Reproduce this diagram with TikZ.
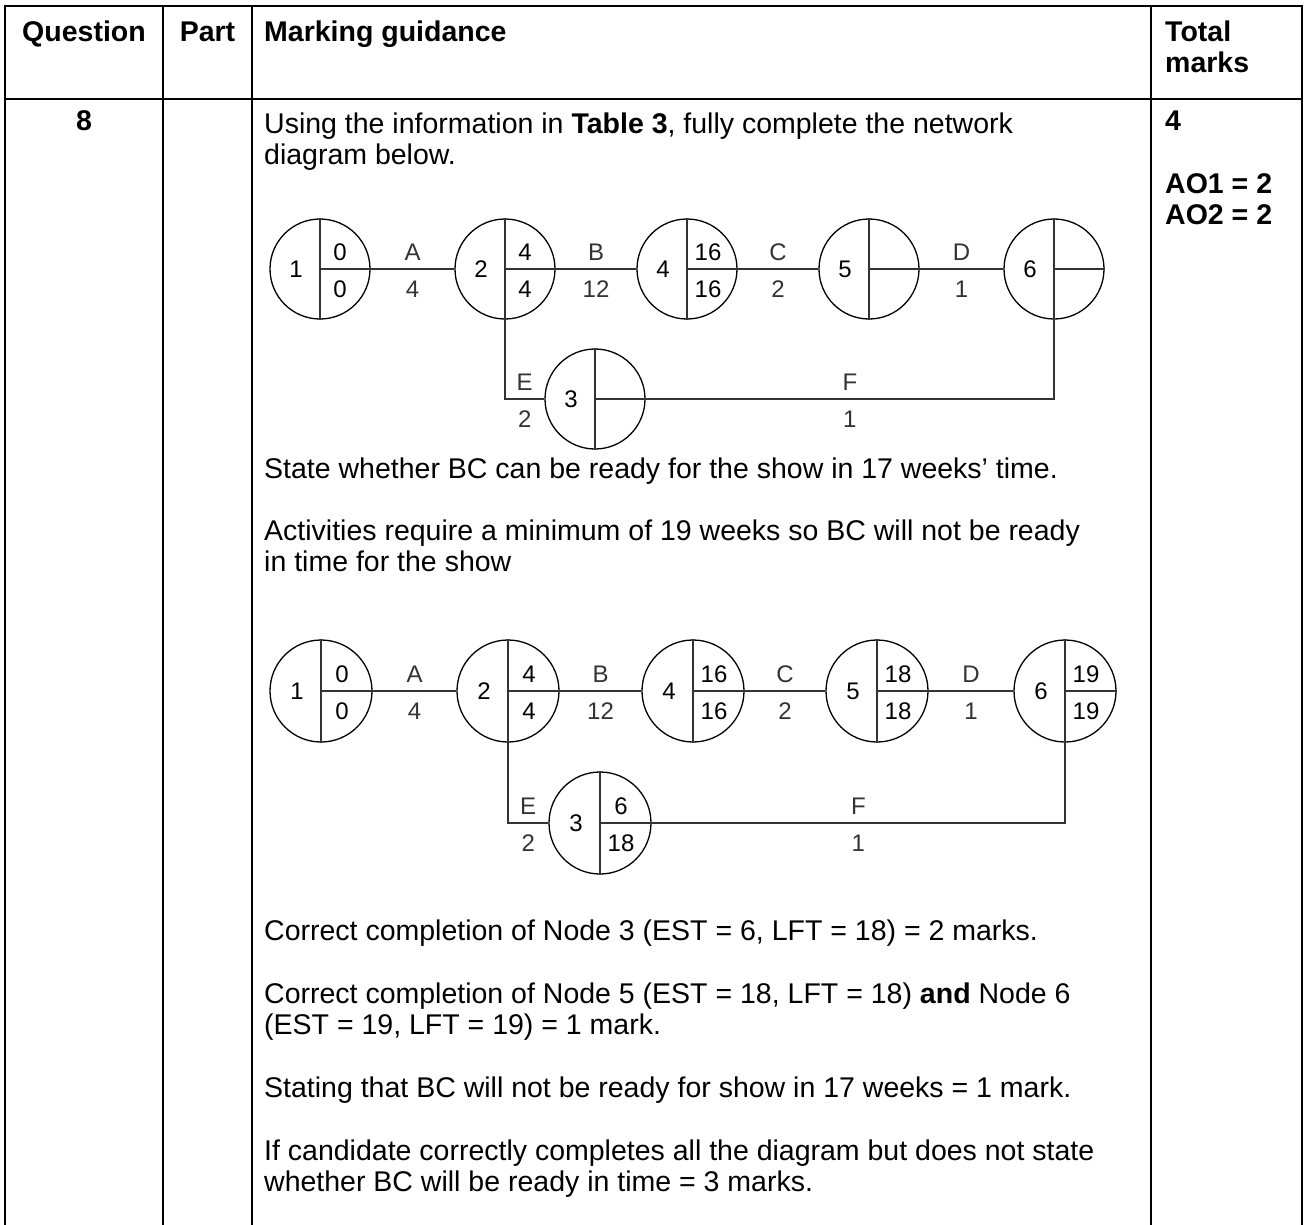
\documentclass[tikz,border=0pt]{standalone}
\usepackage{fontspec}
\setmainfont{Liberation Sans}
\begin{document}
\begin{tikzpicture}[x=1pt,y=-1pt,
  txt/.style={inner sep=0pt, anchor=base west, font=\fontsize{28.5}{31}\selectfont},
  txtc/.style={inner sep=0pt, anchor=base, font=\fontsize{28.5}{31}\selectfont},
  hdr/.style={inner sep=0pt, anchor=base west, font=\fontsize{28.5}{31}\selectfont\bfseries},
  hdrc/.style={inner sep=0pt, anchor=base, font=\fontsize{28.5}{31}\selectfont\bfseries},
  tbl/.style={line width=2pt, black},
  ev/.style={circle, draw=black, line width=1.3pt, minimum size=100pt, inner sep=0pt},
  evb/.style={circle, draw=black, line width=1.3pt, minimum size=102pt, inner sep=0pt},
  cn/.style={line width=1.1pt, black!80},
  dl/.style={inner sep=0pt, font=\fontsize{24}{24}\selectfont},
]
\useasboundingbox (0,0) rectangle (1306,1225);
\fill[white] (0,0) rectangle (1306,1225);
% table
\draw[tbl] (5,1225) -- (5,6) -- (1302,6) -- (1302,1225);
\draw[tbl] (163,6) -- (163,1225);
\draw[tbl] (252,6) -- (252,1225);
\draw[tbl] (1151,6) -- (1151,1225);
\draw[tbl] (5,99) -- (1302,99);
% header
\node[hdrc] (hq) at (84,42) {Question};
\node[hdrc] (hp) at (207.5,42) {Part};
\node[hdr] (hm) at (264,42) {Marking guidance};
\node[hdr] (ht) at (1165,42) {Total};
\node[hdr] (ht2) at (1165,73) {marks};
% right column
\node[hdrc] (q8) at (84,131) {8};
\node[hdr] (m4) at (1165,131) {4};
\node[hdr] (ao1) at (1165,194) {AO1 = 2};
\node[hdr] (ao2) at (1165,225) {AO2 = 2};
% body text
\node[txt] (t1) at (264,134) {Using the information in \textbf{Table 3}, fully complete the network};
\node[txt] (t2) at (264,165) {diagram below.};
\node[txt] (t3) at (264,478) {State whether BC can be ready for the show in 17 weeks’ time.};
\node[txt] (t4) at (264,540) {Activities require a minimum of 19 weeks so BC will not be ready};
\node[txt] (t5) at (264,571) {in time for the show};
\node[txt] (t6) at (264,940) {Correct completion of Node 3 (EST = 6, LFT = 18) = 2 marks.};
\node[txt] (t7) at (264,1003) {Correct completion of Node 5 (EST = 18, LFT = 18) \textbf{and} Node 6};
\node[txt] (t8) at (264,1034) {(EST = 19, LFT = 19) = 1 mark.};
\node[txt] (t9) at (264,1097) {Stating that BC will not be ready for show in 17 weeks = 1 mark.};
\node[txt] (t10) at (264,1160) {If candidate correctly completes all the diagram but does not state};
\node[txt] (t11) at (264,1191) {whether BC will be ready in time = 3 marks.};
% ---------- diagram 1 ----------
\node[ev] (a1) at (320,269) {};
\node[ev] (a2) at (505,269) {};
\node[ev] (a4) at (687,269) {};
\node[ev] (a5) at (869,269) {};
\node[ev] (a6) at (1054,269) {};
\node[ev] (a3) at (595,399) {};
\foreach \n in {a1,a2,a4,a5,a6,a3}{
  \draw[cn] (\n.north) -- (\n.south);
  \draw[cn] (\n.center) -- (\n.east);
}
\draw[cn] (a1.east) -- node[dl,yshift=17pt] (la) {A} node[dl,yshift=-20pt] (la2) {4} (a2.west);
\draw[cn] (a2.east) -- node[dl,yshift=17pt] (lb) {B} node[dl,yshift=-20pt] (lb2) {12} (a4.west);
\draw[cn] (a4.east) -- node[dl,yshift=17pt] (lc) {C} node[dl,yshift=-20pt] (lc2) {2} (a5.west);
\draw[cn] (a5.east) -- node[dl,yshift=17pt] (ld) {D} node[dl,yshift=-20pt] (ld2) {1} (a6.west);
\draw[cn] (a2.south) |- node[dl,pos=0.75,yshift=17pt] (le) {E} node[dl,pos=0.75,yshift=-20pt] (le2) {2} (a3.west);
\draw[cn] (a3.east) -| node[dl,pos=0.25,yshift=17pt] (lf) {F} node[dl,pos=0.25,yshift=-20pt] (lf2) {1} (a6.south);
\foreach \n/\k in {a1/1,a2/2,a4/4,a5/5,a6/6,a3/3}{
  \node[dl] (\n k) at ([xshift=-24pt]\n.center) {\k};
}
\node[dl] (a1t) at ([xshift=20pt,yshift=17pt]a1.center) {0};
\node[dl] (a1b) at ([xshift=20pt,yshift=-20pt]a1.center) {0};
\node[dl] (a2t) at ([xshift=20pt,yshift=17pt]a2.center) {4};
\node[dl] (a2b) at ([xshift=20pt,yshift=-20pt]a2.center) {4};
\node[dl] (a4t) at ([xshift=21pt,yshift=17pt]a4.center) {16};
\node[dl] (a4b) at ([xshift=21pt,yshift=-20pt]a4.center) {16};
% ---------- diagram 2 ----------
\node[evb] (b1) at (321,691) {};
\node[evb] (b2) at (508,691) {};
\node[evb] (b4) at (693,691) {};
\node[evb] (b5) at (877,691) {};
\node[evb] (b6) at (1065,691) {};
\node[evb] (b3) at (600,823) {};
\foreach \n in {b1,b2,b4,b5,b6,b3}{
  \draw[cn] (\n.north) -- (\n.south);
  \draw[cn] (\n.center) -- (\n.east);
}
\draw[cn] (b1.east) -- node[dl,yshift=17pt] (ma) {A} node[dl,yshift=-20pt] (ma2) {4} (b2.west);
\draw[cn] (b2.east) -- node[dl,yshift=17pt] (mb) {B} node[dl,yshift=-20pt] (mb2) {12} (b4.west);
\draw[cn] (b4.east) -- node[dl,yshift=17pt] (mc) {C} node[dl,yshift=-20pt] (mc2) {2} (b5.west);
\draw[cn] (b5.east) -- node[dl,yshift=17pt] (md) {D} node[dl,yshift=-20pt] (md2) {1} (b6.west);
\draw[cn] (b2.south) |- node[dl,pos=0.75,yshift=17pt] (me) {E} node[dl,pos=0.75,yshift=-20pt] (me2) {2} (b3.west);
\draw[cn] (b3.east) -| node[dl,pos=0.25,yshift=17pt] (mf) {F} node[dl,pos=0.25,yshift=-20pt] (mf2) {1} (b6.south);
\foreach \n/\k in {b1/1,b2/2,b4/4,b5/5,b6/6,b3/3}{
  \node[dl] (\n k) at ([xshift=-24pt]\n.center) {\k};
}
\foreach \n/\t/\b in {b1/0/0,b2/4/4,b4/16/16,b5/18/18,b6/19/19,b3/6/18}{
  \node[dl] (\n t) at ([xshift=21pt,yshift=17pt]\n.center) {\t};
  \node[dl] (\n b) at ([xshift=21pt,yshift=-20pt]\n.center) {\b};
}
\end{tikzpicture}
\end{document}
